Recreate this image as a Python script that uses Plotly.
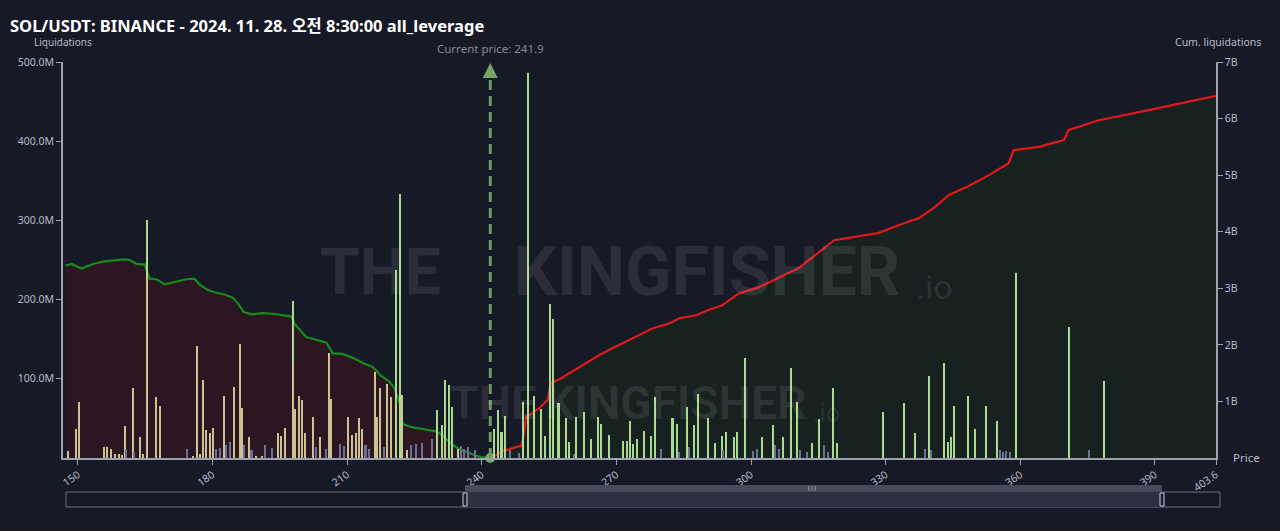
import plotly.graph_objects as go

# ---------------- data ----------------
current_price = 241.9

# long-side liquidation bars (beige), price and value in millions
long_price = [147.8,149.5,150.2,155.8,156.6,157.5,158.2,159.1,159.9,160.5,162.2,163.8,164.5,165.4,167.5,168.3,175.7,176.5,177.2,177.8,178.6,179.4,180.2,182.6,184.9,186.1,186.6,188.1,189.8,191.1,193.2,194.6,195.2,196.1,197.9,198.5,199.2,200.0,200.7,202.5,204.0,205.9,206.4,210.2,211.1,211.9,212.6,213.4,216.2,216.7,217.4,218.9,219.7,222.3,223.3]
long_val_m = [9,36,71,14,14,11,5,5,4,41,88,27,5,228,77,66,3,141,5,98,35,32,38,78,90,144,63,26,3,3,8,31,28,38,120,62,78,73,31,52,27,133,75,52,29,31,51,37,109,52,88,94,77,79,10]

# short-side liquidation bars (light green)
short_price = [165.4,197.9,220.9,221.8,230.1,231.2,231.8,232.6,233.4,234.6,
               242.8,243.7,244.4,245.2,249.3,250.3,251.6,253.2,254.1,255.1,255.8,257.1,258.8,259.5,261.1,262.8,264.3,265.8,266.6,268.3,271.4,272.3,273.0,273.7,274.6,276.2,277.7,278.6,282.5,283.4,285.7,287.2,288.2,290.4,292.0,293.6,294.4,296.1,296.9,298.7,302.4,304.8,307.1,308.8,310.3,313.5,315.2,318.3,319.1,329.4,334.1,336.5,339.7,342.9,343.9,344.5,345.3,348.4,350.0,352.4,354.8,359.0,370.9,378.6]
short_val_m = [300,198,238,333,60,42,98,92,64,12,
               37,60,33,53,71,486,78,62,28,194,175,69,50,20,52,58,24,52,43,29,22,21,47,18,24,34,28,77,51,43,64,42,81,50,19,28,33,26,33,126,26,42,26,114,71,19,49,89,19,58,69,32,103,120,20,26,66,78,36,66,47,234,165,97]

# other (blue-grey) bars
other_price = [160.8,162.5,174.3,180.7,181.6,183.1,183.9,187.0,188.7,191.8,193.3,203.0,205.2,208.5,209.2,214.1,214.8,218.2,224.3,225.4,226.7,229.0,235.4,236.1,237.0,238.5,
               246.3,248.4,260.6,279.9,284.0,286.2,293.7,300.5,301.3,305.3,306.2,310.9,312.5,316.3,317.1,338.7,340.2,355.4,356.1,356.9,357.7,375.2]
other_val_m = [12,8,12,12,13,17,20,16,10,16,13,14,12,18,15,17,12,14,16,18,19,24,15,12,14,10,
               10,6,5,12,8,14,10,9,12,16,11,10,7,16,8,12,10,10,7,9,8,10]

# cumulative liquidations (billions)
long_cum_price = [147.3,148.6,150.8,153.4,155.6,158.2,160.1,161.6,163.1,164.9,165.4,166.0,167.5,169.4,172.0,174.2,176.0,177.2,179.0,180.5,182.7,184.6,185.7,187.0,188.7,191.2,193.5,195.7,197.6,198.3,200.9,202.7,205.4,206.8,209.0,211.3,213.5,215.7,217.6,219.4,220.6,221.7,222.4,224.6,227.6,229.8,231.3,232.8,234.3,235.8,237.2,238.7,240.2,241.9]
long_cum_b = [3.40,3.43,3.35,3.43,3.47,3.49,3.51,3.50,3.43,3.42,3.32,3.17,3.16,3.07,3.12,3.16,3.17,3.06,2.97,2.93,2.89,2.83,2.73,2.58,2.54,2.56,2.55,2.53,2.50,2.37,2.14,2.10,2.04,1.85,1.84,1.77,1.68,1.61,1.45,1.35,1.23,0.97,0.60,0.54,0.50,0.47,0.40,0.28,0.19,0.13,0.09,0.04,0.01,0.0]

short_cum_price = [241.9,242.8,244.3,246.5,248.8,249.3,249.9,251.0,252.8,254.7,255.4,257.7,260.2,263.2,266.2,269.1,273.6,278.0,281.8,284.0,287.7,289.9,293.6,297.3,301.8,310.7,318.5,328.5,333.0,337.4,340.7,344.1,348.5,353.0,357.4,358.5,364.1,369.7,370.8,377.5,388.6,403.6]
short_cum_b = [0.0,0.03,0.11,0.17,0.22,0.37,0.73,0.78,0.88,1.03,1.32,1.41,1.53,1.67,1.82,1.94,2.12,2.29,2.38,2.47,2.52,2.60,2.70,2.91,3.02,3.36,3.85,3.98,4.12,4.24,4.42,4.65,4.81,5.00,5.21,5.44,5.50,5.62,5.80,5.97,6.15,6.40]

x_ticks = [150, 180, 210, 240, 270, 300, 330, 360, 390, 403.6]
x_tick_labels = ["150", "180", "210", "240", "270", "300", "330", "360", "390", "403.6"]
left_ticks_m = [100, 200, 300, 400, 500]
left_tick_labels = ["100.0M", "200.0M", "300.0M", "400.0M", "500.0M"]
right_ticks_b = [1, 2, 3, 4, 5, 6, 7]
right_tick_labels = ["1B", "2B", "3B", "4B", "5B", "6B", "7B"]

# ---------------- style ----------------
BG = "#161926"
AXIS = "#9ea1ae"
TICKTXT = "#b8bbc8"
WM = "rgba(255,255,255,0.09)"
FONT = "Noto Sans, Noto Sans CJK KR, sans-serif"
WMFONT = "Roboto, DejaVu Sans, sans-serif"

fig = go.Figure()

# cumulative areas on primary y (right side)
fig.add_trace(go.Scatter(x=long_cum_price, y=[v * 1e9 for v in long_cum_b], mode="lines",
                         line=dict(color="#198a1c", width=2.2), fill="tozeroy",
                         fillcolor="#2c1621", yaxis="y", showlegend=False, hoverinfo="skip"))
fig.add_trace(go.Scatter(x=short_cum_price, y=[v * 1e9 for v in short_cum_b], mode="lines",
                         line=dict(color="#e0191b", width=2.2), fill="tozeroy",
                         fillcolor="#172120", yaxis="y", showlegend=False, hoverinfo="skip"))
fig.add_trace(go.Scatter(x=[current_price], y=[0], mode="markers",
                         marker=dict(color="#7ba36e", size=10), cliponaxis=False,
                         yaxis="y", showlegend=False, hoverinfo="skip"))

# bars on y2 (left side)
fig.add_trace(go.Bar(x=short_price, y=[v * 1e6 for v in short_val_m], width=0.45,
                     marker=dict(color="#a9da90", line=dict(width=0)), yaxis="y2", showlegend=False))
fig.add_trace(go.Bar(x=long_price, y=[v * 1e6 for v in long_val_m], width=0.45,
                     marker=dict(color="#cbc392", line=dict(width=0)), yaxis="y2", showlegend=False))
fig.add_trace(go.Bar(x=other_price, y=[v * 1e6 for v in other_val_m], width=0.45,
                     marker=dict(color="#6c7096", line=dict(width=0)), yaxis="y2", showlegend=False))

def px2paper_x(px):
    return (px - 63) / 1153.0

def py2paper_y(py):
    return (458 - py) / 396.0

shapes = [
    # current price dashed line
    dict(type="line", xref="x", yref="paper", x0=current_price, x1=current_price,
         y0=0, y1=py2paper_y(72), line=dict(color="#6f9a64", width=3, dash="10px,6px")),
    # range slider
    dict(type="rect", xref="paper", yref="paper", x0=px2paper_x(66), x1=px2paper_x(1220),
         y0=py2paper_y(492), y1=py2paper_y(507), line=dict(color="#6b6e7c", width=1), fillcolor="rgba(0,0,0,0)"),
    dict(type="rect", xref="paper", yref="paper", x0=px2paper_x(465), x1=px2paper_x(1162),
         y0=py2paper_y(492), y1=py2paper_y(507), line=dict(width=0), fillcolor="#2c3041"),
    dict(type="rect", xref="paper", yref="paper", x0=px2paper_x(465), x1=px2paper_x(1162),
         y0=py2paper_y(485), y1=py2paper_y(492), line=dict(width=0), fillcolor="#474a58"),
    dict(type="rect", xref="paper", yref="paper", x0=px2paper_x(463), x1=px2paper_x(467),
         y0=py2paper_y(493), y1=py2paper_y(506), line=dict(color="#c9cbd3", width=1), fillcolor="#1d2030"),
    dict(type="rect", xref="paper", yref="paper", x0=px2paper_x(1160), x1=px2paper_x(1164),
         y0=py2paper_y(493), y1=py2paper_y(506), line=dict(color="#c9cbd3", width=1), fillcolor="#1d2030"),
]

annotations = [
    dict(text="Liquidations", xref="paper", yref="paper", x=0, y=py2paper_y(42),
         showarrow=False, font=dict(family=FONT, size=10, color="#b8bbc8"), xanchor="center", yanchor="middle"),
    dict(text="Cum. liquidations", xref="paper", yref="paper", x=px2paper_x(1218), y=py2paper_y(42),
         showarrow=False, font=dict(family=FONT, size=10.5, color="#b8bbc8"), xanchor="center", yanchor="middle"),
    dict(text="Price", xref="paper", yref="paper", x=px2paper_x(1246), y=py2paper_y(457),
         showarrow=False, font=dict(family=FONT, size=11.5, color="#b8bbc8"), xanchor="center", yanchor="middle"),
    dict(text="Current price: " + str(current_price), xref="x", yref="paper", x=current_price, y=py2paper_y(49),
         showarrow=False, font=dict(family=FONT, size=11.5, color="#868996"), xanchor="center", yanchor="middle"),
    # arrow head
    dict(text="", xref="x", yref="paper", x=current_price, y=py2paper_y(63), ax=0, ay=16,
         showarrow=True, arrowhead=2, arrowsize=1.2, arrowwidth=2.5, arrowcolor="#7ba36e"),
    # slider grip
    dict(text="|||", xref="paper", yref="paper", x=px2paper_x(812), y=py2paper_y(488),
         showarrow=False, font=dict(family=FONT, size=6, color="#e0e0e0"), xanchor="center", yanchor="middle"),
    # watermarks
    dict(text="<b>THE</b>", xref="paper", yref="paper", x=px2paper_x(318), y=py2paper_y(272),
         showarrow=False, font=dict(family=WMFONT, size=64, color=WM), xanchor="left", yanchor="middle"),
    dict(text="<b>KINGFISHER</b>", xref="paper", yref="paper", x=px2paper_x(512), y=py2paper_y(272),
         showarrow=False, font=dict(family=WMFONT, size=68, color=WM), xanchor="left", yanchor="middle"),
    dict(text=".io", xref="paper", yref="paper", x=px2paper_x(914), y=py2paper_y(287),
         showarrow=False, font=dict(family=WMFONT, size=34, color=WM), xanchor="left", yanchor="middle"),
    dict(text="<b>THE</b>", xref="paper", yref="paper", x=px2paper_x(448), y=py2paper_y(403),
         showarrow=False, font=dict(family=WMFONT, size=46, color=WM), xanchor="left", yanchor="middle"),
    dict(text="<b>KINGFISHER</b>", xref="paper", yref="paper", x=px2paper_x(543), y=py2paper_y(403),
         showarrow=False, font=dict(family=WMFONT, size=46, color=WM), xanchor="left", yanchor="middle"),
    dict(text=".io", xref="paper", yref="paper", x=px2paper_x(811), y=py2paper_y(413),
         showarrow=False, font=dict(family=WMFONT, size=25, color=WM), xanchor="left", yanchor="middle"),
]

axis_common = dict(showgrid=False, zeroline=False, showline=True, linecolor=AXIS, linewidth=1.5,
                   ticks="outside", ticklen=5, tickcolor=AXIS, tickwidth=1,
                   tickfont=dict(family=FONT, size=10.5, color=TICKTXT))

fig.update_layout(
    width=1280, height=531,
    paper_bgcolor=BG, plot_bgcolor=BG,
    margin=dict(l=63, r=64, t=62, b=73),
    barmode="overlay", bargap=0,
    title=dict(text="<b>SOL/USDT: BINANCE - 2024. 11. 28. 오전 8:30:00 all_leverage</b>",
               x=10 / 1280, xref="container", xanchor="left",
               y=1 - 26 / 531, yref="container", yanchor="middle",
               font=dict(family=FONT, size=16.5, color="#ffffff")),
    xaxis=dict(range=[146.7, 403.6], tickvals=x_ticks, ticktext=x_tick_labels, tickangle=-35,
               **axis_common),
    yaxis=dict(range=[0, 7e9], side="right", tickvals=[v * 1e9 for v in right_ticks_b],
               ticktext=right_tick_labels, **axis_common),
    yaxis2=dict(range=[0, 500e6], side="left", overlaying="y", tickvals=[v * 1e6 for v in left_ticks_m],
                ticktext=left_tick_labels, **axis_common),
    shapes=shapes,
    annotations=annotations,
    showlegend=False,
)

fig.write_html("out.html",
               config={"displayModeBar": False},
               post_script="document.body.style.margin='0';document.body.style.padding='0';"
                           "document.body.style.background='#161926';document.body.style.overflow='hidden';")
